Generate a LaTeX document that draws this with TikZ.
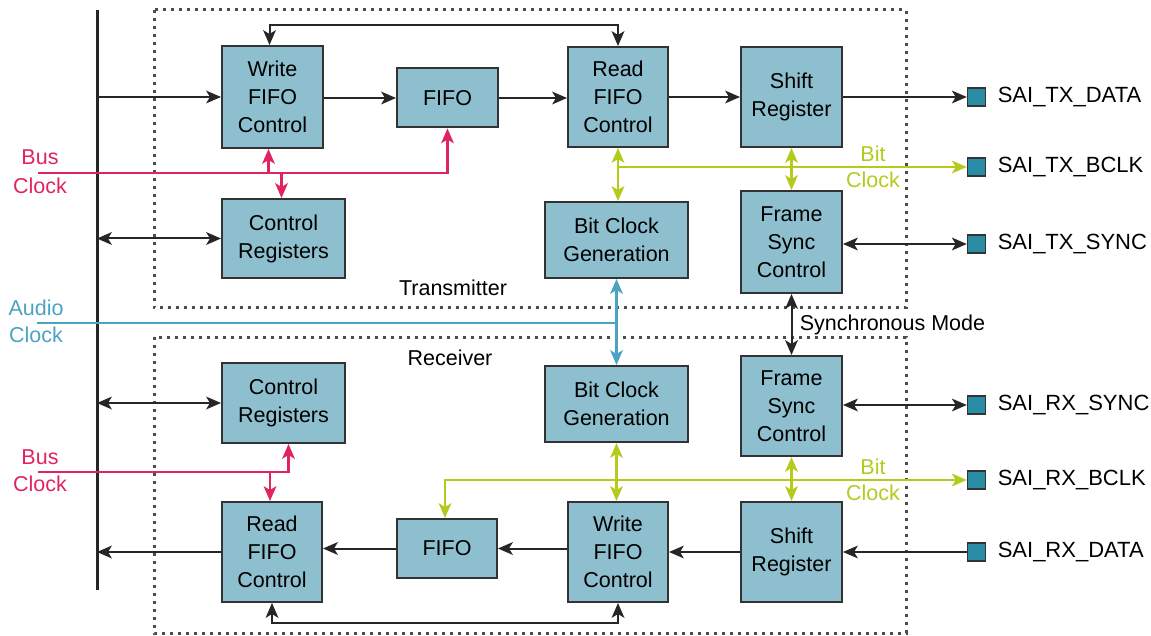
\documentclass[tikz,border=0pt]{standalone}
\usepackage{fontspec}
\setmainfont{Liberation Sans}
\usetikzlibrary{arrows.meta,calc}

\definecolor{boxfill}{HTML}{8DBFCE}
\definecolor{padfill}{HTML}{2B8CA6}
\definecolor{busred}{HTML}{E0245E}
\definecolor{bitgreen}{HTML}{B4CB1E}
\definecolor{audblue}{HTML}{4BA3C3}

\tikzset{
  block/.style={draw=black!80, line width=2pt, fill=boxfill, align=center,
    inner sep=0pt, font=\fontsize{21.5}{28}\selectfont},
  pad/.style={draw=black!80, line width=1.5pt, fill=padfill, minimum size=18pt,
    inner sep=0pt},
  padlabel/.style={font=\fontsize{22}{26}\selectfont, label distance=8pt},
  sig/.style={line width=2pt, black!85},
  busclk/.style={line width=2.5pt, busred},
  bitclk/.style={line width=2.5pt, bitgreen},
  audclk/.style={line width=2.5pt, audblue},
  frame/.style={line width=3pt, black!70, dash pattern=on 3pt off 5pt},
  tip/.tip={Stealth[length=15pt,width=13pt,inset=4pt,line width=0pt]},
  oneway/.style={-tip},
  twoway/.style={tip-tip}
}

\begin{document}
\begin{tikzpicture}[x=1pt,y=-1pt]
  \useasboundingbox (0,0) rectangle (1151,636);

  % frames
  \draw[frame] (154,10) rectangle (906,308);
  \draw[frame] (154,337) rectangle (906,633);
  \node[font=\fontsize{21.5}{26}\selectfont] (txlbl) at (453,288) {Transmitter};
  \node[font=\fontsize{21.5}{26}\selectfont] (rxlbl) at (450,358) {Receiver};

  % bus
  \coordinate (busT) at (97,10);
  \coordinate (busB) at (97,590);
  \draw[line width=3pt, black!85] (busT) -- (busB);

  % transmitter blocks
  \node[block, minimum width=101pt, minimum height=102pt] (wfifoT) at (272.5,97) {Write\\FIFO\\Control};
  \node[block, minimum width=101pt, minimum height=59pt] (fifoT) at (447.5,98) {FIFO};
  \node[block, minimum width=100pt, minimum height=100pt] (rfifoT) at (618,97) {Read\\FIFO\\Control};
  \node[block, minimum width=101pt, minimum height=100pt] (shiftT) at (791.5,97) {Shift\\Register};
  \node[block, minimum width=123pt, minimum height=79pt] (ctrlT) at (283.5,238.5) {Control\\Registers};
  \node[block, minimum width=143pt, minimum height=76pt] (bcgT) at (616.5,240) {Bit Clock\\Generation};
  \node[block, minimum width=101pt, minimum height=102pt] (fsyncT) at (791.5,242) {Frame\\Sync\\Control};

  % receiver blocks
  \node[block, minimum width=123pt, minimum height=80pt] (ctrlR) at (283.5,403) {Control\\Registers};
  \node[block, minimum width=143pt, minimum height=76pt] (bcgR) at (616.5,404) {Bit Clock\\Generation};
  \node[block, minimum width=101pt, minimum height=100pt] (fsyncR) at (791.5,406) {Frame\\Sync\\Control};
  \node[block, minimum width=100pt, minimum height=100pt] (rfifoR) at (272,552) {Read\\FIFO\\Control};
  \node[block, minimum width=100pt, minimum height=59pt] (fifoR) at (447,548.5) {FIFO};
  \node[block, minimum width=100pt, minimum height=100pt] (wfifoR) at (618,552) {Write\\FIFO\\Control};
  \node[block, minimum width=101pt, minimum height=100pt] (shiftR) at (791.5,552) {Shift\\Register};

  % pins
  \node[pad, label={[padlabel]right:SAI\_TX\_DATA}] (txdata) at (976.5,97) {};
  \node[pad, label={[padlabel]right:SAI\_TX\_BCLK}] (txbclk) at (976.5,167) {};
  \node[pad, label={[padlabel]right:SAI\_TX\_SYNC}] (txsync) at (976.5,244) {};
  \node[pad, label={[padlabel]right:SAI\_RX\_SYNC}] (rxsync) at (976.5,405) {};
  \node[pad, label={[padlabel]right:SAI\_RX\_BCLK}] (rxbclk) at (976.5,480) {};
  \node[pad, label={[padlabel]right:SAI\_RX\_DATA}] (rxdata) at (976.5,552) {};

  % transmitter data path
  \draw[sig,oneway] (busT |- wfifoT.west) -- (wfifoT.west);
  \draw[sig,oneway] (wfifoT.east |- fifoT.west) -- (fifoT.west);
  \draw[sig,oneway] (fifoT.east) -- (fifoT.east -| rfifoT.west);
  \draw[sig,oneway] (rfifoT.east) -- (shiftT.west);
  \draw[sig,oneway] (shiftT.east) -- (txdata.west);
  \draw[sig,twoway] ([xshift=-3pt]wfifoT.north) -- ++(0,-20) -| (rfifoT.north);
  \draw[sig,twoway] (busT |- ctrlT.west) -- (ctrlT.west);
  \draw[sig,twoway] (fsyncT.east |- txsync.west) -- (txsync.west);

  % transmitter bus clock
  \coordinate (bclkT) at (38,173);
  \draw[busclk,oneway] (bclkT) -| (fifoT.south);
  \draw[busclk,oneway] ([xshift=-4pt]wfifoT.south |- bclkT) -- ([xshift=-4pt]wfifoT.south);
  \draw[busclk,oneway] ([xshift=-2pt]ctrlT.north |- bclkT) -- ([xshift=-2pt]ctrlT.north);
  \node[text=busred, align=center, font=\fontsize{21.5}{29}\selectfont] (bclkTlbl) at (40,172) {Bus\\Clock};

  % transmitter bit clock
  \draw[bitclk,oneway] (rfifoT.south |- txbclk.west) -- (txbclk.west);
  \draw[bitclk,twoway] (rfifoT.south) -- (rfifoT.south |- bcgT.north);
  \draw[bitclk,twoway] (shiftT.south) -- (shiftT.south |- fsyncT.north);
  \node[text=bitgreen, align=center, font=\fontsize{21.5}{26}\selectfont] (bitTlbl) at (873,167) {Bit\\Clock};

  % audio clock and sync mode
  \coordinate (aclk) at (37,323);
  \draw[audclk] (aclk) -- (aclk -| bcgT.south);
  \draw[audclk,twoway] (bcgT.south) -- (bcgR.north);
  \node[text=audblue, align=center, font=\fontsize{21.5}{27}\selectfont] (aclklbl) at (36,321) {Audio\\Clock};
  \draw[sig,twoway] (fsyncT.south) -- (fsyncT.south |- fsyncR.north)
    node[midway, right=4pt, font=\fontsize{21.5}{26}\selectfont, text=black] {Synchronous Mode};

  % receiver data path
  \draw[sig,twoway] (busT |- ctrlR.west) -- (ctrlR.west);
  \draw[sig,oneway] (rfifoR.west) -- (busT |- rfifoR.west);
  \draw[sig,oneway] (fifoR.west) -- (fifoR.west -| rfifoR.east);
  \draw[sig,oneway] (wfifoR.west |- fifoR.east) -- (fifoR.east);
  \draw[sig,oneway] (shiftR.west) -- (wfifoR.east);
  \draw[sig,oneway] (rxdata.west) -- (shiftR.east);
  \draw[sig,twoway] (rfifoR.south) -- ++(0,20) -| (wfifoR.south);
  \draw[sig,twoway] (fsyncR.east |- rxsync.west) -- (rxsync.west);

  % receiver bus clock
  \coordinate (bclkR) at (38,472);
  \draw[busclk,oneway] (bclkR) -| ([xshift=5pt]ctrlR.south);
  \draw[busclk,oneway] ([xshift=-2pt]rfifoR.north |- bclkR) -- ([xshift=-2pt]rfifoR.north);
  \node[text=busred, align=center, font=\fontsize{21.5}{27}\selectfont] (bclkRlbl) at (40,471) {Bus\\Clock};

  % receiver bit clock
  \draw[bitclk,twoway] ([xshift=-2pt]fifoR.north) |- (rxbclk.west);
  \draw[bitclk,twoway] (bcgR.south) -- (bcgR.south |- wfifoR.north);
  \draw[bitclk,twoway] (fsyncR.south) -- (fsyncR.south |- shiftR.north);
  \node[text=bitgreen, align=center, font=\fontsize{21.5}{26}\selectfont] (bitRlbl) at (873,480) {Bit\\Clock};
\end{tikzpicture}
\end{document}
